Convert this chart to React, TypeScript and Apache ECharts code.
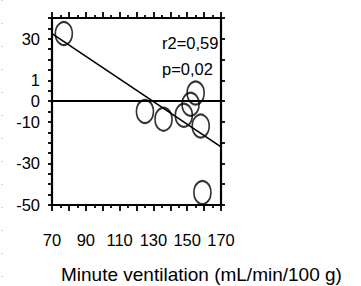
import { useEffect, useRef } from "react";
import * as echarts from "echarts";

// Data
const ventilation = [77, 125, 136, 148, 152, 155, 158, 159];
const changePct = [32.5, -5, -8.7, -6.8, -1.5, 3.9, -12, -44];
const fitX = [70, 170];
const fitY = [32.5, -22];
const xTickValues = [70, 90, 110, 130, 150, 170];
const yTickValues = [30, 10, 0, -10, -30, -50];
const yTickTexts = ["30", "1", "0", "-10", "-30", "-50"];
const statLines = ["r2=0,59", "p=0,02"];
const xTitle = "Minute ventilation (mL/min/100 g)";

const FONT = "Liberation Sans, Arial, sans-serif";

export default function App() {
  const ref = useRef<HTMLDivElement>(null);
  useEffect(() => {
    if (!ref.current) return;
    const chart = echarts.init(ref.current, undefined, { renderer: "svg" });
    const axisLine = { show: true, onZero: false, lineStyle: { color: "#000", width: 2.2 } };
    const tickStyle = { color: "#000", width: 1.8 };
    const baseX = {
      type: "value" as const,
      min: 70,
      max: 170,
      interval: 10,
      axisLine,
      splitLine: { show: false },
      axisTick: { show: true, inside: false, length: 6, lineStyle: tickStyle },
      minorTick: { show: true, splitNumber: 2, length: 3, lineStyle: tickStyle },
    };
    const baseY = {
      type: "value" as const,
      min: -50,
      max: 40,
      axisLine,
      splitLine: { show: false },
    };
    chart.setOption({
      animation: false,
      grid: { left: 52, right: 140, top: 18, bottom: 81 },
      xAxis: [
        {
          ...baseX,
          position: "bottom",
          axisLabel: {
            margin: 26,
            fontSize: 16.5,
            color: "#000",
            fontFamily: FONT,
            formatter: (v: number) => (xTickValues.includes(v) ? String(v) : ""),
          },
        },
        { ...baseX, position: "top", axisLabel: { show: false } },
      ],
      yAxis: [
        {
          ...baseY,
          position: "left",
          interval: 5,
          axisTick: { show: true, inside: false, length: 4, lineStyle: tickStyle },
          axisLabel: {
            margin: 12,
            fontSize: 16.5,
            color: "#000",
            fontFamily: FONT,
            formatter: (v: number) => {
              const i = yTickValues.indexOf(v);
              return i >= 0 ? yTickTexts[i] : "";
            },
          },
        },
        {
          ...baseY,
          position: "right",
          interval: 10,
          axisTick: { show: true, inside: false, length: 4, lineStyle: tickStyle },
          axisLabel: { show: false },
        },
      ],
      series: [
        {
          type: "line",
          data: fitX.map((x, i) => [x, fitY[i]]),
          symbol: "none",
          silent: true,
          lineStyle: { color: "#000", width: 1.6 },
        },
        {
          type: "scatter",
          data: ventilation.map((x, i) => [x, changePct[i]]),
          symbol: "circle",
          symbolSize: [17, 23],
          itemStyle: { color: "rgba(0,0,0,0)", borderColor: "#000", borderWidth: 1.9 },
          markLine: {
            silent: true,
            symbol: "none",
            label: { show: false },
            lineStyle: { color: "#000", width: 1.8, type: "solid" },
            data: [{ yAxis: 0 }],
          },
        },
      ],
      graphic: [
        {
          type: "text",
          x: 162,
          y: 43,
          style: { text: statLines[0], fontSize: 16.5, fontFamily: FONT, fill: "#000", textAlign: "left", textVerticalAlign: "middle" },
        },
        {
          type: "text",
          x: 162,
          y: 69,
          style: { text: statLines[1], fontSize: 16.5, fontFamily: FONT, fill: "#000", textAlign: "left", textVerticalAlign: "middle" },
        },
        {
          type: "text",
          x: 61,
          y: 274,
          style: { text: xTitle, fontSize: 19, fontFamily: FONT, fill: "#000", textAlign: "left", textVerticalAlign: "middle" },
        },
        {
          type: "line",
          shape: { x1: 2, y1: 0, x2: 2, y2: 286 },
          style: { stroke: "#aaa", lineWidth: 1, lineDash: [1, 22] },
        },
      ],
    });
    return () => chart.dispose();
  }, []);
  return (
    <div
      ref={ref}
      style={{ position: "fixed", left: 0, top: 0, width: 361, height: 286, background: "#fff" }}
    />
  );
}
